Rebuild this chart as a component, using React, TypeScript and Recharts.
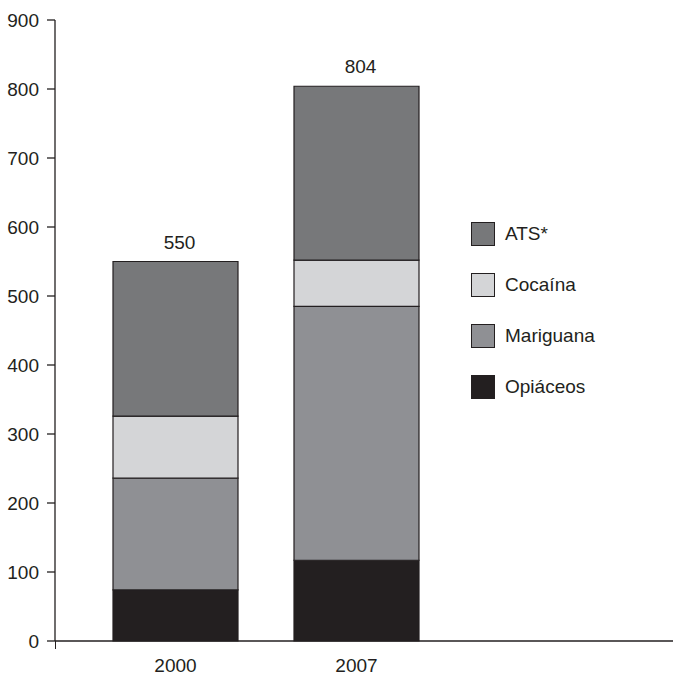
import { BarChart, Bar, XAxis, YAxis, Legend, LabelList } from 'recharts'

const years = ['2000', '2007']
const opiaceos = [74, 117]
const mariguana = [162, 368]
const cocaina = [90, 67]
const ats = [224, 252]
const totals = [550, 804]
const yTicks = [0, 100, 200, 300, 400, 500, 600, 700, 800, 900]

const data = years.map((year, i) => ({
  year,
  opiaceos: opiaceos[i],
  mariguana: mariguana[i],
  cocaina: cocaina[i],
  ats: ats[i],
  total: totals[i],
}))

const ink = '#231f20'
const font = '"Liberation Sans", Arial, sans-serif'

const series = [
  { key: 'opiaceos', name: 'Opiáceos', color: '#231f20' },
  { key: 'mariguana', name: 'Mariguana', color: '#8f9094' },
  { key: 'cocaina', name: 'Cocaína', color: '#d4d5d7' },
  { key: 'ats', name: 'ATS*', color: '#77787a' },
]

function LegendBox() {
  return (
    <div style={{ fontFamily: font, fontSize: 19, color: ink }}>
      {[...series].reverse().map(s => (
        <div key={s.key} style={{ display: 'flex', alignItems: 'center', height: 24, marginBottom: 27 }}>
          <div
            style={{
              width: 24,
              height: 24,
              boxSizing: 'border-box',
              border: `1.5px solid ${ink}`,
              background: s.color,
            }}
          />
          <span style={{ marginLeft: 10 }}>{s.name}</span>
        </div>
      ))}
    </div>
  )
}

function TotalLabel(props: any) {
  const { x, y, width, value } = props
  return (
    <text
      x={x + width / 2 + 4}
      y={y - 13}
      textAnchor="middle"
      fill={ink}
      fontSize={19}
      fontFamily={font}
    >
      {value}
    </text>
  )
}

export default function App() {
  return (
    <div style={{ position: 'absolute', left: 0, top: 0, width: 673, height: 676, background: '#fff' }}>
      <BarChart
        width={673}
        height={676}
        data={data}
        margin={{ top: 20, right: 0, bottom: 0, left: 0 }}
        style={{ fontFamily: font }}
      >
        <XAxis
          dataKey="year"
          height={35}
          padding={{ left: 30, right: 226 }}
          tickLine={false}
          tickSize={0}
          tickMargin={18}
          axisLine={{ stroke: ink, strokeWidth: 1.3 }}
          tick={{ fill: ink, fontSize: 19 }}
        />
        <YAxis
          width={55}
          domain={[0, 900]}
          ticks={yTicks}
          interval={0}
          tickSize={8}
          tickMargin={8}
          axisLine={{ stroke: ink, strokeWidth: 1.3 }}
          tickLine={{ stroke: ink, strokeWidth: 1.3 }}
          tick={{ fill: ink, fontSize: 19 }}
        />
        <Legend
          layout="vertical"
          align="center"
          verticalAlign="middle"
          wrapperStyle={{ left: 471, top: 222, width: 180, height: 200 }}
          content={() => <LegendBox />}
        />
        {series.map(s => (
          <Bar
            key={s.key}
            dataKey={s.key}
            name={s.name}
            stackId="a"
            fill={s.color}
            stroke={ink}
            strokeWidth={1.2}
            barSize={125}
            isAnimationActive={false}
          >
            {s.key === 'ats' && <LabelList dataKey="total" content={TotalLabel} />}
          </Bar>
        ))}
      </BarChart>
      <div style={{ position: 'absolute', left: 54.5, top: 641, width: 1.3, height: 8, background: ink }} />
    </div>
  )
}
